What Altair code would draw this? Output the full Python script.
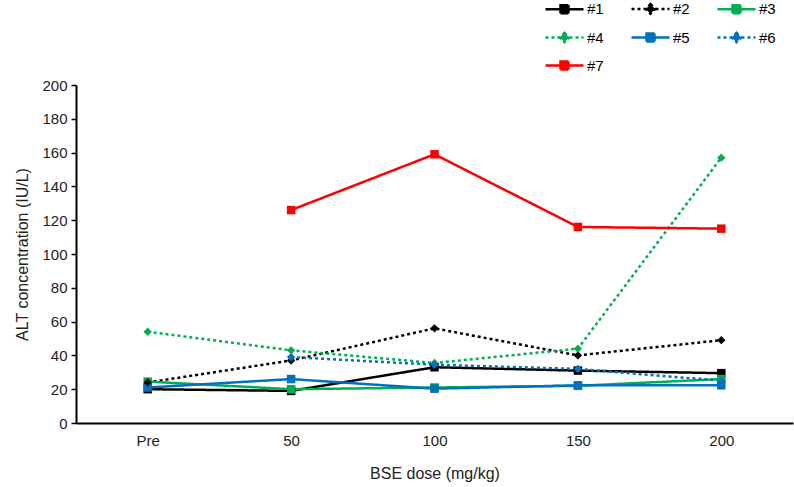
import altair as alt
import pandas as pd

# Dose groups along the x axis
doses = ["Pre", "50", "100", "150", "200"]

# ALT (IU/L) per animal at each dose; None = not measured
alt_1 = [20, 19, 33, 31, 29.5]
alt_2 = [24, 37, 56, 40, 49]
alt_3 = [24.5, 20, 21, 22, 26]
alt_4 = [54, 43, 35.5, 44, 157]
alt_5 = [21, 26, 20.3, 22.3, 22.3]
alt_6 = [None, 39, 34.5, 32, 25]
alt_7 = [None, 126, 159, 116, 115]

series = ["#1", "#2", "#3", "#4", "#5", "#6", "#7"]
values = [alt_1, alt_2, alt_3, alt_4, alt_5, alt_6, alt_7]

colors = ["#000000", "#000000", "#00B050", "#00B050", "#0070C0", "#0070C0", "#FF0000"]
dashes = [[1, 0], [3, 3], [1, 0], [3, 3], [1, 0], [3, 3], [1, 0]]
markers = ["square", "diamond", "square", "diamond", "square", "diamond", "square"]

# Legend glyphs: a short line segment with the marker in its middle
sq_path = "M-3.8,0H3.8M-0.8,-0.8H0.8V0.8H-0.8Z"
di_path = "M-3.8,0H3.8M0,-0.95L0.95,0L0,0.95L-0.95,0Z"
legend_shapes = [sq_path if m == "square" else di_path for m in markers]

rows = []
for name, marker, vals in zip(series, markers, values):
    for dose, v in zip(doses, vals):
        if v is not None:
            rows.append({"animal": name, "marker": marker, "dose": dose, "alt": v})
df = pd.DataFrame(rows)

FONT = "Liberation Sans"

legend = alt.Legend(
    title=None,
    orient="none",
    direction="horizontal",
    legendX=481,
    legendY=-84,
    columns=3,
    columnPadding=22,
    rowPadding=8,
    padding=0,
    symbolSize=100,
    symbolStrokeWidth=2.5,
    symbolOpacity=1,
    labelOffset=15,
    labelFont=FONT,
    labelFontSize=15,
    labelColor="#000000",
)

x = alt.X(
    "dose:N",
    sort=doses,
    scale=alt.Scale(type="point", domain=doses, padding=0.5),
    axis=alt.Axis(
        title="BSE dose (mg/kg)",
        labelAngle=0,
        ticks=False,
        grid=False,
        domainColor="#000000",
        domainWidth=2,
        labelPadding=10,
        titlePadding=17,
        labelFont=FONT,
        titleFont=FONT,
        labelFontSize=15,
        titleFontSize=16,
        titleFontWeight="normal",
        labelColor="#222222",
        titleColor="#222222",
    ),
)
y = alt.Y(
    "alt:Q",
    scale=alt.Scale(domain=[0, 200], nice=False),
    axis=alt.Axis(
        title="ALT concentration (IU/L)",
        values=list(range(0, 201, 20)),
        grid=False,
        tickSize=5,
        tickWidth=1.5,
        tickColor="#000000",
        domainColor="#000000",
        domainWidth=2,
        labelPadding=4,
        titlePadding=11,
        labelFont=FONT,
        titleFont=FONT,
        labelFontSize=15,
        titleFontSize=16,
        titleFontWeight="normal",
        labelColor="#222222",
        titleColor="#222222",
    ),
)
color = alt.Color("animal:N", scale=alt.Scale(domain=series, range=colors), legend=legend)
dash = alt.StrokeDash("animal:N", scale=alt.Scale(domain=series, range=dashes), legend=legend)

base = alt.Chart(df).encode(x=x, y=y, color=color)

lines = base.mark_line(strokeWidth=2.5).encode(strokeDash=dash)
squares = base.transform_filter("datum.marker == 'square'").mark_square(
    filled=True, opacity=1, size=72
)
diamonds = base.transform_filter("datum.marker == 'diamond'").mark_point(
    shape="diamond", filled=True, opacity=1, size=70
)
# Draws no marks in the plot; supplies the line-with-marker legend glyphs
key = base.transform_filter("false").mark_point(filled=True, opacity=1, strokeWidth=2.5).encode(
    strokeDash=dash,
    shape=alt.Shape("animal:N", scale=alt.Scale(domain=series, range=legend_shapes), legend=legend),
)

chart = (
    alt.layer(lines, squares, diamonds, key)
    .properties(
        width=717,
        height=338,
        autosize=alt.AutoSizeParams(type="none"),
        padding={"left": 76, "top": 85, "right": 1, "bottom": 64},
        background="#ffffff",
    )
    .configure_view(stroke=None)
)

chart.save("out.html", embed_options={"renderer": "svg", "actions": False})
